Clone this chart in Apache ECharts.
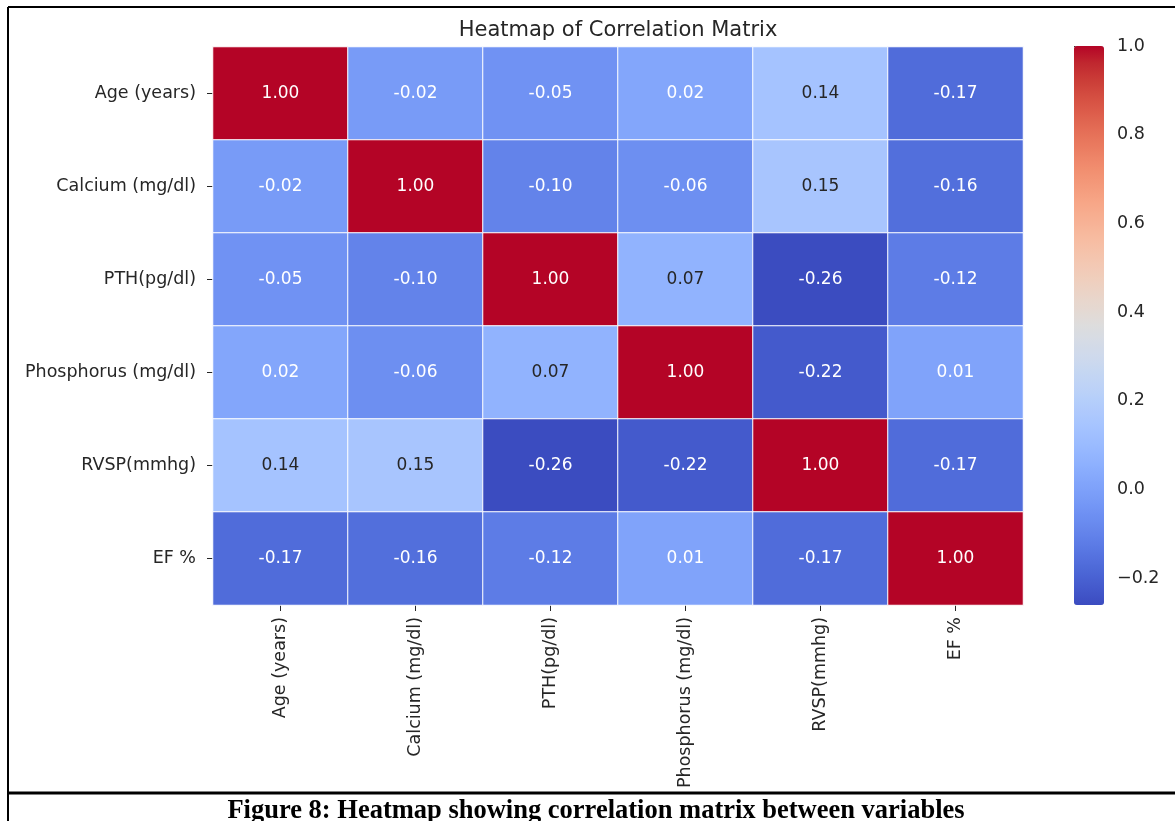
<!DOCTYPE html>
<html>
<head>
<meta charset="utf-8">
<script src="https://cdn.jsdelivr.net/npm/echarts@6/dist/echarts.min.js"></script>
<style>
html,body{margin:0;padding:0;background:#fff;}
#chart{width:1175px;height:821px;}
</style>
</head>
<body>
<div id="chart"></div>
<script>
// ---- data ----
const variables = ['Age (years)', 'Calcium (mg/dl)', 'PTH(pg/dl)', 'Phosphorus (mg/dl)', 'RVSP(mmhg)', 'EF %'];
const rowAge        = [1.00, -0.02, -0.05,  0.02,  0.14, -0.17];
const rowCalcium    = [-0.02, 1.00, -0.10, -0.06,  0.15, -0.16];
const rowPTH        = [-0.05, -0.10, 1.00,  0.07, -0.26, -0.12];
const rowPhosphorus = [0.02, -0.06,  0.07,  1.00, -0.22,  0.01];
const rowRVSP       = [0.14,  0.15, -0.26, -0.22,  1.00, -0.17];
const rowEF         = [-0.17, -0.16, -0.12, 0.01, -0.17,  1.00];
const colorbarTicks = [-0.2, 0.0, 0.2, 0.4, 0.6, 0.8, 1.0];
const colorbarTickLabels = ['\u22120.2', '0.0', '0.2', '0.4', '0.6', '0.8', '1.0'];
const titleText = 'Heatmap of Correlation Matrix';
const captionText = 'Figure 8: Heatmap showing correlation matrix between variables';

const rows = [rowAge, rowCalcium, rowPTH, rowPhosphorus, rowRVSP, rowEF];

// coolwarm colormap (Moreland)
const coolwarm = [
 [59,76,192],[68,90,204],[77,104,215],[87,117,225],[98,130,234],[108,142,241],[119,154,247],[130,165,251],
 [141,176,254],[152,185,255],[163,194,255],[174,201,253],[184,208,249],[194,213,244],[204,217,238],[213,219,230],
 [221,221,221],[229,216,209],[236,211,197],[241,204,185],[245,196,173],[247,187,160],[247,177,148],[247,166,135],
 [244,154,123],[241,141,111],[236,127,99],[229,112,88],[222,96,77],[213,80,66],[203,62,56],[192,40,47],[180,4,38]
];
const allVals = rows.flat();
const vmin = Math.min(...allVals), vmax = Math.max(...allVals);

function cmap(v){
  let t = (v - vmin) / (vmax - vmin);
  t = Math.max(0, Math.min(1, t));
  const p = t * (coolwarm.length - 1);
  const i = Math.min(Math.floor(p), coolwarm.length - 2);
  const f = p - i;
  return coolwarm[i].map((c, k) => c + (coolwarm[i+1][k] - c) * f);
}
function lum(rgb){
  const l = rgb.map(c => { c /= 255; return c <= 0.03928 ? c/12.92 : Math.pow((c+0.055)/1.055, 2.4); });
  return 0.2126*l[0] + 0.7152*l[1] + 0.0722*l[2];
}

const heatData = [];
rows.forEach((row, yi) => {
  row.forEach((v, xi) => {
    const dark = lum(cmap(v)) > 0.408;
    heatData.push({
      value: [xi, yi, v],
      label: { color: dark ? '#262626' : '#ffffff' }
    });
  });
});

const FONT = 'DejaVu Sans';
const TXT = '#262626';
const FS = 17.5;
const gridL = 213, gridT = 47, gridR = 1023, gridB = 605;

const chart = echarts.init(document.getElementById('chart'), null, {renderer: 'canvas'});
chart.setOption({
  backgroundColor: '#ffffff',
  animation: false,
  grid: [
    {left: gridL, top: gridT, width: gridR - gridL, height: gridB - gridT},
    {left: 1074, top: gridT - 1, width: 30, height: gridB - gridT + 1}
  ],
  xAxis: [
    {
      type: 'category', data: variables, gridIndex: 0, position: 'bottom',
      axisLine: {show: false},
      axisTick: {show: true, alignWithLabel: true, length: 6, lineStyle: {color: TXT, width: 1}},
      axisLabel: {rotate: 90, margin: 12, fontFamily: FONT, fontSize: FS, color: TXT},
      splitLine: {show: false}, splitArea: {show: false}
    },
    {type: 'value', gridIndex: 1, show: false, min: 0, max: 1}
  ],
  yAxis: [
    {
      type: 'category', data: variables, gridIndex: 0, inverse: true,
      axisLine: {show: false},
      axisTick: {show: true, alignWithLabel: true, length: 6, lineStyle: {color: TXT, width: 1}},
      axisLabel: {margin: 17, fontFamily: FONT, fontSize: FS, color: TXT},
      splitLine: {show: false}, splitArea: {show: false}
    },
    {
      type: 'value', gridIndex: 1, position: 'right', min: vmin, max: vmax,
      axisLine: {show: false},
      axisTick: {show: true, length: 6, inside: false, lineStyle: {color: TXT, width: 1}, customValues: colorbarTicks},
      axisLabel: {
        margin: 13, fontFamily: FONT, fontSize: FS, color: TXT, customValues: colorbarTicks,
        formatter: (v) => { const i = colorbarTicks.findIndex(t => Math.abs(t - v) < 1e-9); return i >= 0 ? colorbarTickLabels[i] : ''; }
      },
      splitLine: {show: false}
    }
  ],
  visualMap: {
    type: 'continuous', min: vmin, max: vmax, seriesIndex: 0,
    calculable: false, realtime: false, hoverLink: false,
    orient: 'vertical', left: 1074, top: gridT - 1, padding: 0,
    itemWidth: 30, itemHeight: gridB - gridT + 1,
    text: null, showLabel: false,
    inRange: {color: coolwarm.map(c => 'rgb(' + c.join(',') + ')')}
  },
  series: [
    {
      type: 'heatmap', xAxisIndex: 0, yAxisIndex: 0, data: heatData,
      itemStyle: {borderColor: '#ffffff', borderWidth: 1},
      label: {show: true, fontFamily: FONT, fontSize: 17, formatter: (p) => p.value[2].toFixed(2)},
      emphasis: {disabled: true}
    },
    {type: 'scatter', xAxisIndex: 1, yAxisIndex: 1, data: [], silent: true}
  ],
  graphic: [
    {type: 'text', x: (gridL + gridR) / 2, y: 31, style: {text: titleText, fontFamily: FONT, fontSize: 21, fill: TXT, align: 'center', verticalAlign: 'middle'}},
    {type: 'line', shape: {x1: 8, y1: 7, x2: 1175, y2: 7}, style: {stroke: '#000', lineWidth: 2}},
    {type: 'line', shape: {x1: 8, y1: 7, x2: 8, y2: 821}, style: {stroke: '#000', lineWidth: 2}},
    {type: 'line', shape: {x1: 8, y1: 793, x2: 1175, y2: 793}, style: {stroke: '#000', lineWidth: 3}},
    {type: 'text', x: 596, y: 811, style: {text: captionText, fontFamily: 'Liberation Serif', fontWeight: 'bold', fontSize: 26.5, fill: '#000', align: 'center', verticalAlign: 'middle'}}
  ]
});
</script>
</body>
</html>
